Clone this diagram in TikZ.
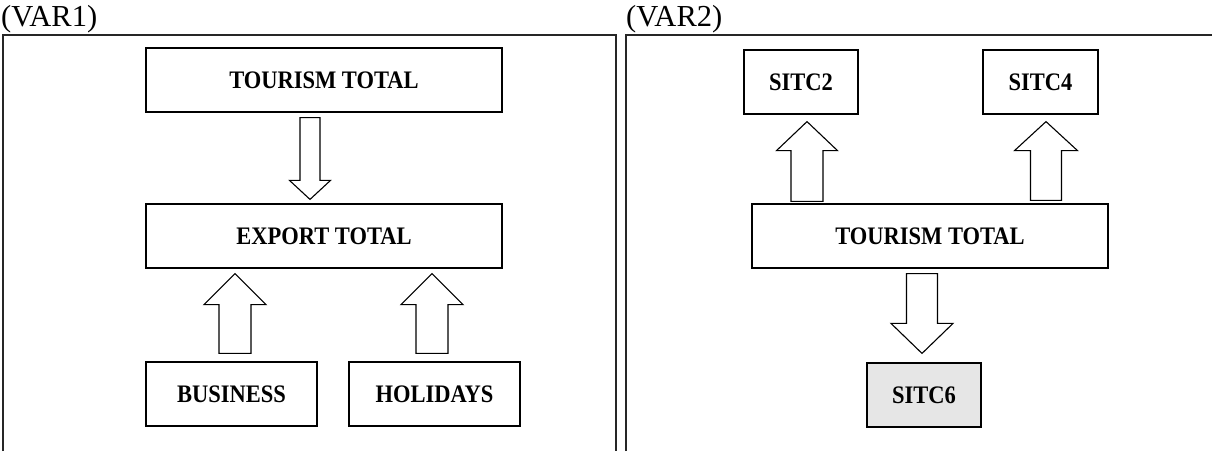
\documentclass[tikz,border=0pt]{standalone}
\usepackage{fontspec}
\usepackage{graphicx}
\setmainfont{Liberation Serif}
\usetikzlibrary{calc}

% Bold box label, slightly stretched vertically
\newcommand\boxlabel[1]{\scalebox{1}[1.12]{#1}}

% Hollow block arrow from #1 (tail) to #2 (tip):
% #3 half shaft width, #4 half head width, #5 head length
\newcommand\blockarrow[5]{%
  \coordinate (ba-base) at ($(#2)!#5!(#1)$);
  \draw[arrowbox]
    ($(#1)!#3!90:(#2)$) -- ($(ba-base)!#3!-90:(#1)$) -- ($(ba-base)!#4!-90:(#1)$)
    -- (#2) -- ($(ba-base)!#4!90:(#1)$) -- ($(ba-base)!#3!90:(#1)$)
    -- ($(#1)!#3!-90:(#2)$) -- cycle;}

\definecolor{sitcgray}{HTML}{E6E6E6}

\tikzset{
  labelbox/.style={draw=black, line width=1.2pt, fill=white, inner sep=0pt,
    minimum height=64pt, font=\fontsize{22.5}{25}\selectfont\bfseries},
  arrowbox/.style={draw=black, line width=1.1pt, fill=white, line join=miter},
  panel/.style={draw=black!85, line width=1.1pt},
  heading/.style={anchor=base west, inner sep=0pt, font=\fontsize{30.5}{33}\selectfont}
}

\begin{document}
\begin{tikzpicture}[x=1pt, y=-1pt]
\useasboundingbox (0,0) rectangle (1212,451);

% panel frames (open at the bottom)
\draw[panel] (3,451) -- (3,35) -- (616,35) -- (616,451);
\draw[panel] (626,451) -- (626,35) -- (1212,35);

\node[heading] (var1) at (1,26) {(VAR1)};
\node[heading] (var2) at (626,26) {(VAR2)};

% ---- VAR1 ----
\node[labelbox, minimum width=356pt] (tt1) at (324,80) {\boxlabel{TOURISM TOTAL}};
\node[labelbox, minimum width=356pt] (ex1) at (324,236) {\boxlabel{EXPORT TOTAL}};
\node[labelbox, minimum width=171pt] (bus) at (231.5,394) {\boxlabel{BUSINESS}};
\node[labelbox, minimum width=171pt] (hol) at (434.5,394) {\boxlabel{HOLIDAYS}};

\coordinate (a1t) at ($(tt1.south)+(-14,5)$);
\coordinate (a1h) at ($(ex1.north)+(-14,-4)$);
\blockarrow{a1t}{a1h}{10pt}{20.5pt}{19pt}

\coordinate (a2t) at ($(bus.north)+(3.5,-8)$);
\coordinate (a2h) at ($(bus.north |- ex1.south)+(3.5,5)$);
\blockarrow{a2t}{a2h}{16pt}{31pt}{31pt}

\coordinate (a3t) at ($(hol.north)+(-2.5,-8)$);
\coordinate (a3h) at ($(hol.north |- ex1.south)+(-2.5,5)$);
\blockarrow{a3t}{a3h}{16pt}{31pt}{31pt}

% ---- VAR2 ----
\node[labelbox, minimum width=114pt] (s2) at (801,82) {\boxlabel{SITC2}};
\node[labelbox, minimum width=115pt] (s4) at (1040.5,82) {\boxlabel{SITC4}};
\node[labelbox, minimum width=356pt] (tt2) at (930,236) {\boxlabel{TOURISM TOTAL}};
\node[labelbox, minimum width=114pt, fill=sitcgray] (s6) at (924,395) {\boxlabel{SITC6}};

\coordinate (a4t) at ($(s2.south |- tt2.north)+(6,-2)$);
\coordinate (a4h) at ($(s2.south)+(6,7)$);
\blockarrow{a4t}{a4h}{16pt}{30.5pt}{29pt}

\coordinate (a5t) at ($(s4.south |- tt2.north)+(5.5,-3)$);
\coordinate (a5h) at ($(s4.south)+(5.5,7)$);
\blockarrow{a5t}{a5h}{15.5pt}{31.5pt}{29pt}

\coordinate (a6t) at ($(s6.north |- tt2.south)+(-2,5)$);
\coordinate (a6h) at ($(s6.north)+(-2,-9)$);
\blockarrow{a6t}{a6h}{15.5pt}{31pt}{30pt}

\end{tikzpicture}
\end{document}
